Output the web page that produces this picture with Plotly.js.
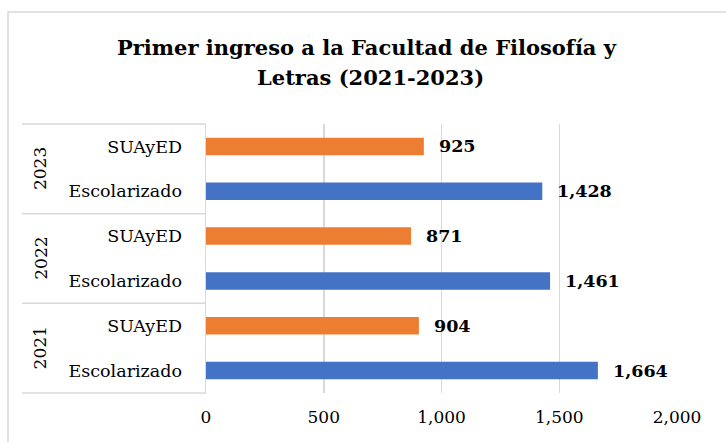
<!DOCTYPE html>
<html>
<head>
<meta charset="utf-8">
<script src="https://cdn.plot.ly/plotly-3.0.1.min.js"></script>
<style>html,body{margin:0;padding:0;background:#fff;}#chart{width:726px;height:442px;}</style>
</head>
<body>
<div id="chart"></div>
<script>
const years = ['2021', '2022', '2023'];
const types = ['Escolarizado', 'SUAyED'];
const escolarizado = [1664, 1461, 1428];
const suayed = [904, 871, 925];
const xTicks = [0, 500, 1000, 1500, 2000];
const titleLines = ['Primer ingreso a la Facultad de Filosofía y', 'Letras (2021-2023)'];

const SERIF = 'DejaVu Serif, serif';
const GRID = '#d9d9d9';

const catKeys = [];
const catLabels = [];
years.forEach(y => types.forEach(t => { catKeys.push(y + ' ' + t); catLabels.push(t); }));

const traces = [
  {
    type: 'bar', orientation: 'h', name: 'Escolarizado',
    x: escolarizado, y: years.map(y => y + ' Escolarizado'),
    marker: {color: '#4472C4'}, width: 0.39, hoverinfo: 'x+y'
  },
  {
    type: 'bar', orientation: 'h', name: 'SUAyED',
    x: suayed, y: years.map(y => y + ' SUAyED'),
    marker: {color: '#ED7D31'}, width: 0.39, hoverinfo: 'x+y'
  }
];

const annotations = [];
traces.forEach(tr => {
  tr.x.forEach((v, i) => {
    annotations.push({
      x: v, y: tr.y[i], xref: 'x', yref: 'y', text: v.toLocaleString('en-US'),
      showarrow: false, xanchor: 'left', yanchor: 'middle', xshift: 13,
      font: {family: SERIF, size: 17.5, color: '#000', weight: 'bold'}
    });
  });
});
years.forEach((y, i) => {
  annotations.push({
    x: -0.352, xref: 'paper', y: i * 2 + 0.5, yref: 'y', text: y,
    textangle: -90, showarrow: false, xanchor: 'center', yanchor: 'middle',
    font: {family: SERIF, size: 17, color: '#000'}
  });
});
// title, one annotation per line for line spacing control
const titleCenters = [47, 78];
const titleXs = [367, 370];
titleLines.forEach((t, i) => {
  annotations.push({
    x: titleXs[i] / 726, xref: 'paper', y: 0, yref: 'paper', text: t,
    showarrow: false, xanchor: 'center', yanchor: 'middle',
    font: {family: SERIF, size: 21, color: '#000', weight: 'bold'}
  });
});

const shapes = [];
[0, 1/3, 2/3, 1].forEach(p => {
  shapes.push({type: 'line', xref: 'paper', yref: 'paper', x0: -0.3907, x1: 0, y0: p, y1: p,
    line: {color: GRID, width: 1.5}});
});
// outer chart frame
shapes.push({type: 'rect', xref: 'paper', yref: 'paper', x0: -0.4204, x1: 1.2, y0: -0.3, y1: 1.4164,
  line: {color: GRID, width: 1.5}, fillcolor: 'rgba(0,0,0,0)'});

const L = 206, R = 49, T = 124, B = 49, W = 726, H = 442;
const pw = W - L - R, ph = H - T - B;
// convert title annotation positions from pixels into paper fractions
annotations.forEach(a => {
  if (titleLines.includes(a.text)) {
    const i = titleLines.indexOf(a.text);
    a.x = (titleXs[i] - L) / pw;
    a.y = (H - B - titleCenters[i]) / ph;
  }
});

const layout = {
  width: W, height: H,
  margin: {l: L, r: R, t: T, b: B},
  paper_bgcolor: '#fff', plot_bgcolor: '#fff',
  showlegend: false,
  barmode: 'overlay',
  xaxis: {
    range: [0, 2000], tickmode: 'array', tickvals: xTicks, tickformat: ',',
    showgrid: true, gridcolor: GRID, gridwidth: 1.5, zeroline: false, showline: false,
    ticks: '', ticklabelstandoff: 12,
    tickfont: {family: SERIF, size: 17, color: '#000'}, fixedrange: true
  },
  yaxis: {
    type: 'category', categoryorder: 'array', categoryarray: catKeys,
    tickmode: 'array', tickvals: catKeys, ticktext: catLabels,
    range: [-0.5, 5.5], showgrid: false, zeroline: false,
    showline: true, linecolor: GRID, linewidth: 1.5,
    ticks: '', ticklabelstandoff: 19,
    tickfont: {family: SERIF, size: 17.5, color: '#000'}, fixedrange: true
  },
  annotations: annotations,
  shapes: shapes
};

Plotly.newPlot('chart', traces, layout, {displayModeBar: false, staticPlot: true});
</script>
</body>
</html>
